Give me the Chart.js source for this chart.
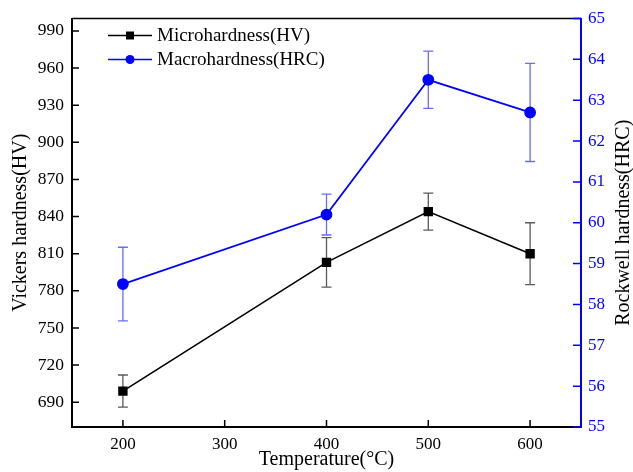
<!DOCTYPE html>
<html>
<head>
<meta charset="utf-8">
<script src="https://cdn.jsdelivr.net/npm/chart.js@4/dist/chart.umd.min.js"></script>
<style>
  html, body { margin: 0; padding: 0; background: #fff; }
  #wrap { width: 633px; height: 472px; }
</style>
</head>
<body>
<div id="wrap"><canvas id="hardnessChart"></canvas></div>
<script>
// temperatures and measured hardness
var temps = [200, 400, 500, 600];
var microHV = [699, 803, 844, 810];
var microErr = [13, 20, 15, 25];
var macroHRC = [58.5, 60.2, 63.5, 62.7];
var macroErr = [0.9, 0.5, 0.7, 1.2];

var xTicks = [200, 300, 400, 500, 600];
var hvTicks = [690, 720, 750, 780, 810, 840, 870, 900, 930, 960, 990];
var hrcTicks = [55, 56, 57, 58, 59, 60, 61, 62, 63, 64, 65];

var leftTitle = "Vickers hardness(HV)";
var rightTitle = "Rockwell hardness(HRC)";

var serif = "'Liberation Serif', 'Times New Roman', serif";
var blue = "#0000ff";

function pts(vals) {
  return temps.map(function (t, i) { return { x: t, y: vals[i] }; });
}

// error bars, drawn through the scales
var errorBars = {
  id: "errorBars",
  beforeDatasetsDraw: function (chart) {
    var ctx = chart.ctx;
    var x = chart.scales.x;
    var sets = [
      { axis: chart.scales.y, vals: microHV, err: microErr, color: "#5a5a5a" },
      { axis: chart.scales.y1, vals: macroHRC, err: macroErr, color: "#6a6aff" }
    ];
    ctx.save();
    ctx.lineWidth = 1.3;
    sets.forEach(function (s) {
      ctx.strokeStyle = s.color;
      temps.forEach(function (t, i) {
        var px = x.getPixelForValue(t);
        var top = s.axis.getPixelForValue(s.vals[i] + s.err[i]);
        var bot = s.axis.getPixelForValue(s.vals[i] - s.err[i]);
        ctx.beginPath();
        ctx.moveTo(px, top); ctx.lineTo(px, bot);
        ctx.moveTo(px - 5, top); ctx.lineTo(px + 5, top);
        ctx.moveTo(px - 5, bot); ctx.lineTo(px + 5, bot);
        ctx.stroke();
      });
    });
    ctx.restore();
  }
};

// inward tick marks, top frame line, y titles and legend
var frame = {
  id: "frame",
  afterDraw: function (chart) {
    var ctx = chart.ctx;
    var a = chart.chartArea;
    var x = chart.scales.x, y = chart.scales.y, y1 = chart.scales.y1;
    ctx.save();
    ctx.lineWidth = 1.5;
    ctx.strokeStyle = "#000";
    ctx.beginPath();
    xTicks.forEach(function (v) {
      var p = x.getPixelForValue(v);
      ctx.moveTo(p, a.bottom); ctx.lineTo(p, a.bottom - 7);
    });
    hvTicks.forEach(function (v) {
      var p = y.getPixelForValue(v);
      ctx.moveTo(a.left, p); ctx.lineTo(a.left + 7, p);
    });
    ctx.moveTo(a.left, a.top); ctx.lineTo(a.right, a.top);
    ctx.stroke();
    ctx.strokeStyle = blue;
    ctx.beginPath();
    hrcTicks.forEach(function (v) {
      var p = y1.getPixelForValue(v);
      ctx.moveTo(a.right, p); ctx.lineTo(a.right - 8, p);
    });
    ctx.stroke();

    // axis titles, both reading bottom to top
    var midY = (a.top + a.bottom) / 2;
    ctx.font = "20px " + serif;
    ctx.fillStyle = "#000";
    ctx.textAlign = "center";
    ctx.textBaseline = "middle";
    [[21, leftTitle], [624, rightTitle]].forEach(function (t) {
      ctx.save();
      ctx.translate(t[0], midY);
      ctx.rotate(-Math.PI / 2);
      ctx.fillText(t[1], 0, 0);
      ctx.restore();
    });

    // legend
    var items = [
      { label: "Microhardness(HV)", color: "#000", style: "rect", y: a.top + 17 },
      { label: "Macrohardness(HRC)", color: blue, style: "circle", y: a.top + 41 }
    ];
    ctx.font = "19px " + serif;
    ctx.textAlign = "left";
    items.forEach(function (it) {
      ctx.strokeStyle = it.color;
      ctx.fillStyle = it.color;
      ctx.lineWidth = 1.6;
      ctx.beginPath();
      ctx.moveTo(108, it.y); ctx.lineTo(152, it.y);
      ctx.stroke();
      ctx.beginPath();
      if (it.style === "rect") {
        ctx.rect(126, it.y - 4, 8, 8);
      } else {
        ctx.arc(130, it.y, 4.5, 0, Math.PI * 2);
      }
      ctx.fill();
      ctx.fillStyle = "#000";
      ctx.fillText(it.label, 157, it.y + 1);
    });
    ctx.restore();
  }
};

new Chart(document.getElementById("hardnessChart"), {
  type: "line",
  data: {
    datasets: [
      {
        label: "Microhardness(HV)",
        data: pts(microHV),
        yAxisID: "y",
        borderColor: "#000",
        backgroundColor: "#000",
        borderWidth: 1.6,
        pointStyle: "rect",
        pointRadius: 5.5,
        tension: 0
      },
      {
        label: "Macrohardness(HRC)",
        data: pts(macroHRC),
        yAxisID: "y1",
        borderColor: blue,
        backgroundColor: blue,
        borderWidth: 1.8,
        pointStyle: "circle",
        pointRadius: 5,
        tension: 0
      }
    ]
  },
  options: {
    responsive: true,
    maintainAspectRatio: false,
    animation: false,
    layout: { padding: { top: 17 } },
    plugins: {
      legend: { display: false },
      tooltip: { enabled: false }
    },
    scales: {
      x: {
        type: "linear",
        min: 150,
        max: 650,
        afterBuildTicks: function (s) { s.ticks = xTicks.map(function (v) { return { value: v }; }); },
        afterFit: function (s) { s.height = 45; },
        grid: { display: false, drawTicks: false },
        border: { color: "#000", width: 2 },
        ticks: { color: "#000", padding: 7, maxRotation: 0, font: { family: serif, size: 17 } },
        title: { display: true, text: "Temperature(°C)", color: "#000", padding: 0, font: { family: serif, size: 20 } }
      },
      y: {
        position: "left",
        min: 670,
        max: 1000,
        afterBuildTicks: function (s) { s.ticks = hvTicks.map(function (v) { return { value: v }; }); },
        afterFit: function (s) { s.width = 72; },
        grid: { display: false, drawTicks: false },
        border: { color: "#000", width: 2 },
        ticks: { color: "#000", padding: 8, font: { family: serif, size: 17.5 } }
      },
      y1: {
        position: "right",
        min: 55,
        max: 65,
        afterBuildTicks: function (s) { s.ticks = hrcTicks.map(function (v) { return { value: v }; }); },
        afterFit: function (s) { s.width = 52; },
        grid: { display: false, drawTicks: false },
        border: { color: blue, width: 2 },
        ticks: { color: blue, padding: 7, font: { family: serif, size: 17 } }
      }
    }
  },
  plugins: [errorBars, frame]
});
</script>
</body>
</html>
